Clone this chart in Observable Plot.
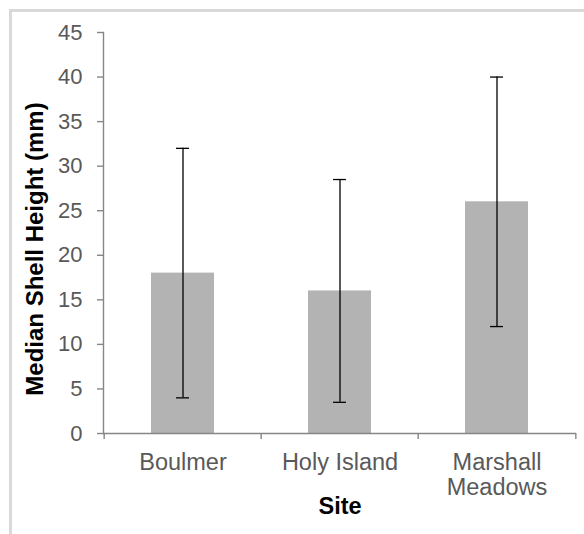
<!DOCTYPE html>
<html>
<head>
<meta charset="utf-8">
<script src="https://cdn.jsdelivr.net/npm/d3@7"></script>
<script src="https://cdn.jsdelivr.net/npm/@observablehq/plot@0.6"></script>
<style>
  html, body { margin: 0; padding: 0; background: white; }
  #wrap { position: relative; width: 584px; height: 534px; overflow: hidden; }
  #border { position: absolute; left: 9px; top: 9px; width: 700px; height: 700px; border: 3px solid #d9d9d9; box-sizing: border-box; pointer-events: none; }
  #chart { position: absolute; left: 0; top: 0; }
</style>
</head>
<body>
<div id="wrap"><div id="chart"></div><div id="border"></div></div>
<script>
// Data
const sites = ["Boulmer", "Holy Island", "Marshall Meadows"];
const siteLabels = ["Boulmer", "Holy Island", "Marshall\nMeadows"];
const medians = [18, 16, 26];
const lowerBar = [4, 3.5, 12];
const upperBar = [32, 28.5, 40];
const yTicks = [0, 5, 10, 15, 20, 25, 30, 35, 40, 45];

const data = sites.map((s, i) => ({site: s, median: medians[i], lo: lowerBar[i], hi: upperBar[i]}));
const labelOf = new Map(sites.map((s, i) => [s, siteLabels[i]]));

const width = 584, height = 534;
const marginLeft = 103, marginRight = 8, marginTop = 32, marginBottom = 101;
const paddingInner = 0.6, paddingOuter = 0.3;
const step = (width - marginLeft - marginRight) / (sites.length - paddingInner + 2 * paddingOuter);
const bandwidth = step * (1 - paddingInner);
const capWidth = 13;
const capInset = (bandwidth - capWidth) / 2;

const axisGray = "#868686";
const textGray = "#595959";

const chart = Plot.plot({
  width, height, marginLeft, marginRight, marginTop, marginBottom,
  style: {fontFamily: "'Liberation Sans', Arial, sans-serif", fontSize: "22px", background: "transparent"},
  x: {domain: sites, paddingInner, paddingOuter, axis: null},
  y: {domain: [0, 45], axis: null},
  marks: [
    Plot.barY(data, {x: "site", y: "median", fill: "#b3b3b3"}),
    Plot.frame({anchor: "left", stroke: axisGray, strokeWidth: 1.4}),
    Plot.ruleY([0], {stroke: axisGray, strokeWidth: 1.4}),
    Plot.axisY({ticks: yTicks, tickSize: 6, tickPadding: 15, stroke: axisGray, fill: textGray, fontSize: 22, label: null, strokeWidth: 1.4}),
    Plot.axisX({tickSize: 6, tickFormat: () => "", dx: -step / 2, stroke: axisGray, label: null, strokeWidth: 1.4}),
    Plot.axisX({ticks: [sites[sites.length - 1]], tickSize: 6, tickFormat: () => "", dx: step / 2, stroke: axisGray, label: null, strokeWidth: 1.4}),
    Plot.axisX({tickSize: 0, tickPadding: 19, tickFormat: d => labelOf.get(d), fill: textGray, fontSize: 23.5, lineHeight: 1.07, label: null}),
    Plot.ruleX(data, {x: "site", y1: "lo", y2: "hi", stroke: "#000", strokeWidth: 1.3}),
    Plot.tickY(data, {x: "site", y: "hi", stroke: "#000", strokeWidth: 1.3, insetLeft: capInset, insetRight: capInset}),
    Plot.tickY(data, {x: "site", y: "lo", stroke: "#000", strokeWidth: 1.3, insetLeft: capInset, insetRight: capInset}),
    Plot.text(["Median Shell Height (mm)"], {frameAnchor: "left", textAnchor: "middle", lineAnchor: "middle", rotate: -90, dx: -68, dy: 16, fontWeight: "bold", fontSize: 24, fill: "#000"}),
    Plot.text(["Site"], {frameAnchor: "bottom", lineAnchor: "top", dy: 64, fontWeight: "bold", fontSize: 23.5, fill: "#000"})
  ]
});
document.getElementById("chart").appendChild(chart);
</script>
</body>
</html>
